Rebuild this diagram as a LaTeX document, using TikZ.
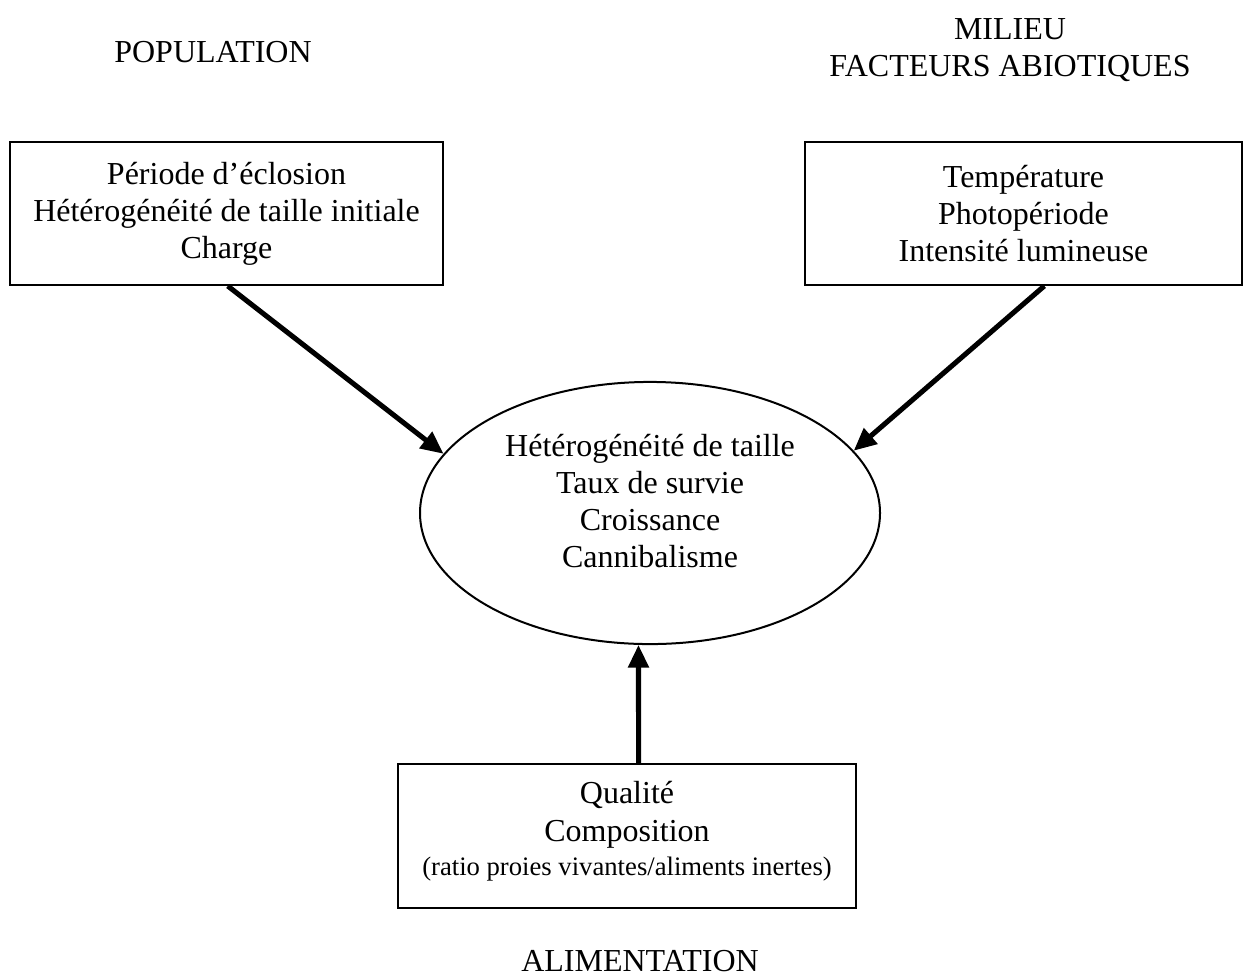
\documentclass[tikz,border=0pt]{standalone}
\usepackage{fontspec}
\setmainfont{Liberation Serif}
\usetikzlibrary{arrows.meta,shapes.geometric}

\begin{document}
\begin{tikzpicture}[x=0.375pt,y=-0.375pt,
    every node/.style={font=\fontsize{12}{13.9}\selectfont},
    boite/.style={draw,line width=0.75pt,inner sep=0pt,align=center},
    fleche/.style={line width=1.9pt,-{Triangle[length=8.5pt,width=7.5pt]}}]
      \useasboundingbox (0,0) rectangle (1243,975);
      \node[anchor=base] (population) at (213,62) {POPULATION};
      \node[align=center,anchor=north,inner sep=0pt] (milieu) at (1010,18) {MILIEU\\FACTEURS ABIOTIQUES};
      \node[anchor=base] (alimentation) at (640,971) {ALIMENTATION};
      \node[boite,minimum width=162.4pt,minimum height=53.6pt] (popbox) at (226.5,213.5)
        {Période d’éclosion\\Hétérogénéité de taille initiale\\Charge};
      \node[boite,minimum width=163.9pt,minimum height=53.6pt] (milbox) at (1023.5,213.5)
        {Température\\Photopériode\\Intensité lumineuse};
      \node[boite,minimum width=171.8pt,minimum height=54pt] (alibox) at (627,836)
        {Qualité\\Composition\\[-1pt]{\fontsize{10}{12}\selectfont (ratio proies vivantes/aliments inertes)\rule[-5.6pt]{0pt}{0pt}}};
      \node[boite,ellipse,minimum width=172.5pt,minimum height=98.3pt] (centre) at (650,513) {};
      \node[align=center] (centretexte) at (650,501)
        {Hétérogénéité de taille\\Taux de survie\\Croissance\\Cannibalisme};
      \draw[fleche] (popbox.-89) -- (centre.164);
      \draw[fleche] (milbox.-74) -- (centre.17);
      \draw[fleche] (alibox.81) -- (centre.-95);
    \end{tikzpicture}
\end{document}
